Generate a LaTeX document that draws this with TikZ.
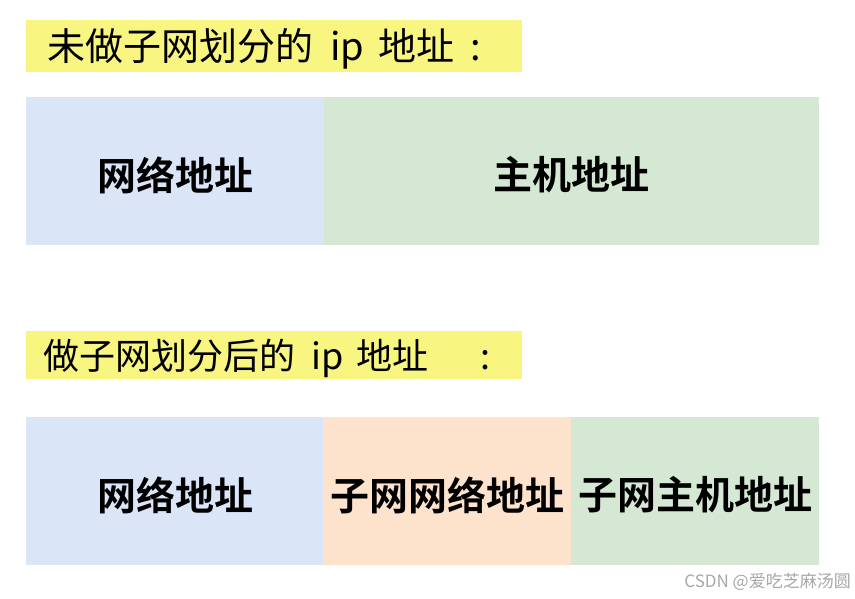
\documentclass[tikz,border=0pt]{standalone}
\usepackage{fontspec}
\setmainfont{Noto Sans CJK SC}
\newfontfamily\cjkbold{Noto Sans CJK SC Bold}
\definecolor{ylw}{HTML}{F8F580}
\definecolor{blu}{HTML}{DAE6F8}
\definecolor{grn}{HTML}{D5E8D4}
\definecolor{org}{HTML}{FDE3CC}
\definecolor{wm}{HTML}{A8A8A8}
\begin{document}
\begin{tikzpicture}[x=1pt,y=-1pt,
  bar/.style={fill=ylw,draw=none},
  titleA/.style={anchor=west,inner sep=0pt,font=\fontsize{38}{42}\selectfont},
  titleB/.style={anchor=west,inner sep=0pt,font=\fontsize{36}{40}\selectfont},
  lbl/.style={inner sep=0pt,font=\cjkbold\fontsize{39}{44}\selectfont}]
\useasboundingbox[fill=white] (0,0) rectangle (855,598);
% titles
\fill[bar] (26,20) rectangle (522,72);
\node[titleA] (t1) at (47,49) {未做子网划分的\hspace{17pt}ip\hspace{14pt}地址\hspace{16pt}:};
\fill[bar] (26,331) rectangle (522,379);
\node[titleB] (t2) at (43,358) {做子网划分后的\hspace{16pt}ip\hspace{13pt}地址\hspace{52pt}:};
% top row
\fill[blu] (26,97) rectangle (324,245);
\fill[grn] (324,97) rectangle (819,245);
\node[lbl] (a1) at (175,175) {网络地址};
\node[lbl] (a2) at (571,175) {主机地址};
% bottom row
\fill[blu] (26,417) rectangle (323,565);
\fill[org] (323,417) rectangle (571,565);
\fill[grn] (571,417) rectangle (819,565);
\node[lbl] (b1) at (175,495) {网络地址};
\node[lbl] (b2) at (447,495) {子网网络地址};
\node[lbl] (b3) at (695,495) {子网主机地址};
% watermark
\node[anchor=east,inner sep=0pt,text=wm,font=\fontsize{17}{20}\selectfont] (w) at (851,582) {CSDN @爱吃芝麻汤圆};
\end{tikzpicture}
\end{document}
